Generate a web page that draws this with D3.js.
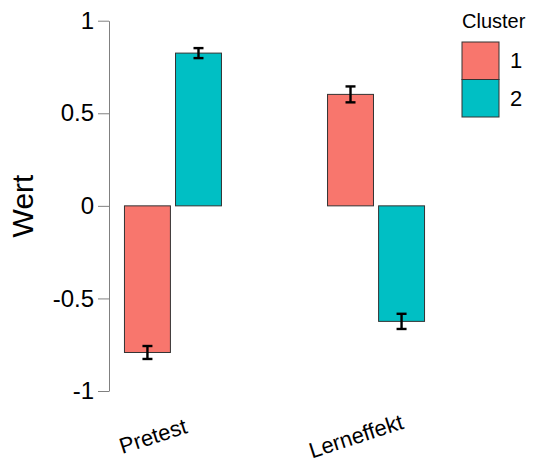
<!DOCTYPE html>
<html>
<head>
<meta charset="utf-8">
<script src="https://cdn.jsdelivr.net/npm/d3@7"></script>
<style>
  html, body { margin: 0; padding: 0; background: #fff; }
  text { font-family: "Liberation Sans", Arial, sans-serif; }
</style>
</head>
<body>
<svg id="chart" width="533" height="464"></svg>
<script>
const categories = ["Pretest", "Lerneffekt"];
const clusters = ["1", "2"];
const cluster1Values = [-0.792, 0.602];
const cluster2Values = [0.825, -0.624];
const cluster1Errors = [0.035, 0.043];
const cluster2Errors = [0.027, 0.041];
const yTicks = [-1, -0.5, 0, 0.5, 1];
const yTickLabels = ["-1", "-0.5", "0", "0.5", "1"];
const colors = ["#F8766D", "#00BFC4"];

const data = [];
categories.forEach((c, i) => {
  data.push({cat: c, cluster: "1", value: cluster1Values[i], err: cluster1Errors[i]});
  data.push({cat: c, cluster: "2", value: cluster2Values[i], err: cluster2Errors[i]});
});

const svg = d3.select("#chart");
const axisX = 109;

const y = d3.scaleLinear().domain([-1, 1]).range([391, 20.7]);
const x = d3.scalePoint().domain(categories).range([109, 440]).padding(0.315);
const xSub = d3.scaleBand().domain(clusters).range([-48.5, 48.5]).paddingInner(0.1);
const color = d3.scaleOrdinal().domain(clusters).range(colors);

// y axis
const yAxis = d3.axisLeft(y).tickValues(yTicks)
  .tickFormat((d, i) => yTickLabels[i]).tickSize(11).tickPadding(4).tickSizeOuter(0);
const gy = svg.append("g").attr("transform", `translate(${axisX},0)`).call(yAxis);
gy.select(".domain").attr("stroke", "#808080").attr("stroke-width", 1);
gy.selectAll(".tick line").attr("stroke", "#808080").attr("stroke-width", 1);
gy.selectAll(".tick text").attr("font-size", 24).attr("fill", "#000")
  .attr("font-family", "'Liberation Sans', Arial, sans-serif");

// bars
const bars = svg.append("g");
bars.selectAll("rect").data(data).join("rect")
  .attr("x", d => x(d.cat) + xSub(d.cluster))
  .attr("width", xSub.bandwidth())
  .attr("y", d => y(Math.max(0, d.value)))
  .attr("height", d => Math.abs(y(d.value) - y(0)))
  .attr("fill", d => color(d.cluster))
  .attr("stroke", "#333")
  .attr("stroke-width", 1);

// error bars
const eb = svg.append("g").attr("stroke", "#000").attr("stroke-width", 2.4);
data.forEach(d => {
  const cx = x(d.cat) + xSub(d.cluster) + xSub.bandwidth() / 2;
  const y1 = y(d.value + d.err), y2 = y(d.value - d.err);
  eb.append("line").attr("x1", cx).attr("x2", cx).attr("y1", y1).attr("y2", y2);
  eb.append("line").attr("x1", cx - 5).attr("x2", cx + 5).attr("y1", y1).attr("y2", y1);
  eb.append("line").attr("x1", cx - 5).attr("x2", cx + 5).attr("y1", y2).attr("y2", y2);
});

// x labels
svg.append("g").selectAll("text").data(categories).join("text")
  .attr("transform", d => `translate(${x(d) - 20},${436}) rotate(-18)`)
  .attr("text-anchor", "middle")
  .attr("dy", "0.35em")
  .attr("font-size", 22)
  .attr("fill", "#000")
  .text(d => d);

// y title
svg.append("text")
  .attr("transform", `translate(22,206) rotate(-90)`)
  .attr("text-anchor", "middle")
  .attr("dy", "0.35em")
  .attr("font-size", 30)
  .attr("fill", "#000")
  .text("Wert");

// legend
const lg = svg.append("g");
lg.append("text").attr("x", 462).attr("y", 28).attr("font-size", 20).attr("fill", "#000").text("Cluster");
clusters.forEach((c, i) => {
  lg.append("rect").attr("x", 462).attr("y", 42 + i * 37.5).attr("width", 37).attr("height", 37.5)
    .attr("fill", color(c)).attr("stroke", "#333").attr("stroke-width", 1);
  lg.append("text").attr("x", 510).attr("y", 42 + i * 37.5 + 18.75).attr("dy", "0.35em")
    .attr("font-size", 22).attr("fill", "#000").text(c);
});
</script>
</body>
</html>
